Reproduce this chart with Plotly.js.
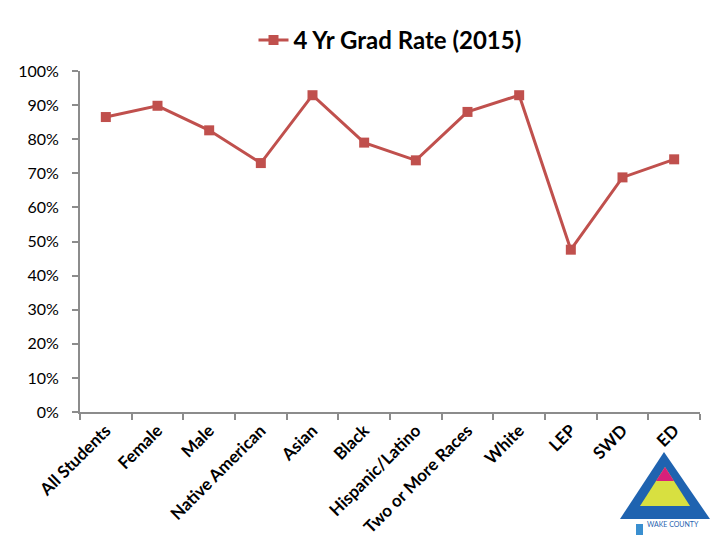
<!DOCTYPE html>
<html>
<head>
<meta charset="utf-8">
<script src="https://cdn.plot.ly/plotly-3.0.1.min.js"></script>
<style>html,body{margin:0;padding:0;background:#fff;}#chart{width:720px;height:540px;}</style>
</head>
<body>
<div id="chart"></div>
<script>
var categories = ["All Students","Female","Male","Native American","Asian","Black","Hispanic/Latino","Two or More Races","White","LEP","SWD","ED"];
var gradRate = [0.865, 0.898, 0.826, 0.730, 0.929, 0.790, 0.738, 0.880, 0.929, 0.476, 0.688, 0.741];
var seriesName = "4 Yr Grad Rate (2015)";
var yTicks = [0,0.1,0.2,0.3,0.4,0.5,0.6,0.7,0.8,0.9,1.0];

var trace = {
  x: categories, y: gradRate, name: seriesName, type: "scatter", mode: "lines+markers",
  line: {color: "#C0504D", width: 3},
  marker: {symbol: "square", size: 10, color: "#C0504D"}
};

var layout = {
  width: 720, height: 540,
  margin: {l: 80, r: 20, t: 71, b: 128},
  paper_bgcolor: "#fff", plot_bgcolor: "#fff",
  font: {family: "Lato, 'DejaVu Sans', sans-serif", color: "#000"},
  showlegend: true,
  legend: {orientation: "h", x: 0.5, xanchor: "center", y: 1.09, yanchor: "middle",
    font: {size: 24, family: "Lato, sans-serif", weight: "bold"}, itemwidth: 30},
  xaxis: {
    type: "category", range: [-0.5, 11.5], tickson: "boundaries",
    showline: true, linecolor: "#8c8c8c", linewidth: 2,
    ticks: "outside", ticklen: 6, tickcolor: "#8c8c8c", tickwidth: 2,
    tickangle: -45, showgrid: false, zeroline: false,
    tickfont: {size: 17, family: "Lato, sans-serif", weight: "bold", color: "#000"}
  },
  yaxis: {
    range: [0, 1], tickvals: yTicks, tickformat: ".0%",
    showline: true, linecolor: "#8c8c8c", linewidth: 2,
    ticks: "outside", ticklen: 6, tickcolor: "#8c8c8c", tickwidth: 2,
    ticklabelstandoff: 10,
    showgrid: false, zeroline: false,
    tickfont: {size: 16, family: "Lato, sans-serif", color: "#000"}
  }
};

// simple decorative logo approximation in the lower right corner
function px(x){ return (x - 80) / 620; }
function py(y){ return (412 - y) / 341; }
layout.shapes = [
  {type:"path", xref:"paper", yref:"paper", layer:"above",
   path:"M "+px(664)+","+py(452)+" L "+px(710)+","+py(519)+" L "+px(620)+","+py(519)+" Z",
   fillcolor:"#1f63b0", line:{width:0}},
  {type:"path", xref:"paper", yref:"paper", layer:"above",
   path:"M "+px(665)+","+py(467)+" L "+px(690)+","+py(506)+" L "+px(640)+","+py(506)+" Z",
   fillcolor:"#d8e040", line:{width:0}},
  {type:"path", xref:"paper", yref:"paper", layer:"above",
   path:"M "+px(665)+","+py(467)+" L "+px(674)+","+py(481)+" L "+px(656)+","+py(481)+" Z",
   fillcolor:"#d8207a", line:{width:0}},
  {type:"rect", xref:"paper", yref:"paper", layer:"above",
   x0:px(636), x1:px(643), y0:py(535), y1:py(524), fillcolor:"#3a8fd0", line:{width:0}}
];
layout.annotations = [
  {xref:"paper", yref:"paper", x:px(645), y:py(529.5), xanchor:"left", text:"WAKE COUNTY",
   showarrow:false, font:{size:7, color:"#1f63b0"}}
];

Plotly.newPlot("chart", [trace], layout, {displayModeBar: false});
</script>
</body>
</html>
